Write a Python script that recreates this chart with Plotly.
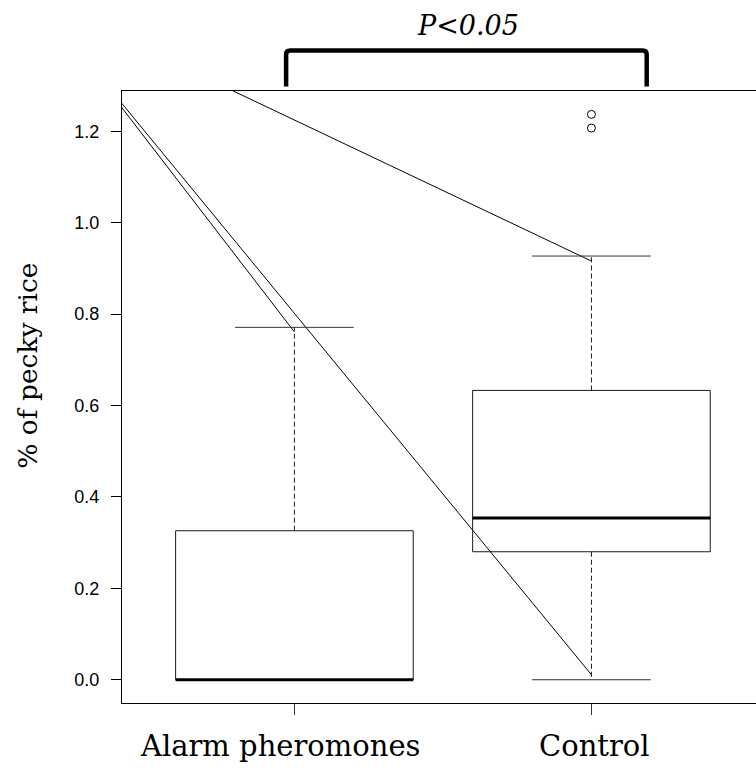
import plotly.graph_objects as go

# ---- data ---------------------------------------------------------------
groups = ["Alarm pheromones", "Control"]
positions = [1, 2]
q1 = [0.0, 0.280]
median = [0.0, 0.354]
q3 = [0.326, 0.633]
whisker_low = [0.0, 0.0]
whisker_high = [0.771, 0.927]
outlier_x = [2, 2]
outlier_y = [1.237, 1.207]

# straight guide segments running in from the upper left
seg_x0 = [0.30, 0.30, 0.60]
seg_y0 = [1.352, 1.355, 1.348]
seg_x1 = [1.0, 2.0, 2.0]
seg_y1 = [0.761, 0.011, 0.916]

y_ticks = [0.0, 0.2, 0.4, 0.6, 0.8, 1.0, 1.2]
sig_label = "P<0.05"
y_label = "% of pecky rice"

# ---- layout geometry ----------------------------------------------------
W, H = 756, 771
TOP, BOTTOM, LEFT = 91, 703.3, 122
X_RANGE = [0.4195, 2.554]
Y_RANGE = [-0.0509, 1.2881]
BOX_HALF = 0.4
CAP_HALF = 0.2


def py_to_paper(py):
    return (BOTTOM - py) / (BOTTOM - TOP)


def px_to_paper(px):
    return (px - LEFT) / (W - LEFT)


fig = go.Figure()
shapes = []

for x, a, m, b, lo, hi in zip(positions, q1, median, q3, whisker_low, whisker_high):
    # box body
    shapes.append(dict(type="rect", xref="x", yref="y",
                       x0=x - BOX_HALF, x1=x + BOX_HALF, y0=a, y1=b,
                       line=dict(color="#1a1a1a", width=1), fillcolor="rgba(0,0,0,0)"))
    # dashed whiskers
    if hi > b:
        shapes.append(dict(type="line", xref="x", yref="y", x0=x, x1=x, y0=b, y1=hi,
                           line=dict(color="#1a1a1a", width=1, dash="5px,3px")))
    if lo < a:
        shapes.append(dict(type="line", xref="x", yref="y", x0=x, x1=x, y0=a, y1=lo,
                           line=dict(color="#1a1a1a", width=1, dash="5px,3px")))
    # whisker caps
    for v in (lo, hi):
        shapes.append(dict(type="line", xref="x", yref="y",
                           x0=x - CAP_HALF, x1=x + CAP_HALF, y0=v, y1=v,
                           line=dict(color="#333333", width=1)))
    # median
    shapes.append(dict(type="line", xref="x", yref="y",
                       x0=x - BOX_HALF, x1=x + BOX_HALF, y0=m, y1=m,
                       line=dict(color="black", width=3)))

# outliers
fig.add_trace(go.Scatter(x=outlier_x, y=outlier_y, mode="markers",
                         marker=dict(symbol="circle-open", size=8, color="black",
                                     line=dict(width=1)),
                         showlegend=False, hoverinfo="skip"))

# guide segments (clipped by the plotting region)
for xa, ya, xb, yb in zip(seg_x0, seg_y0, seg_x1, seg_y1):
    fig.add_trace(go.Scatter(x=[xa, xb], y=[ya, yb], mode="lines",
                             line=dict(color="black", width=1),
                             showlegend=False, hoverinfo="skip"))

# significance bracket above the plot, with softly rounded corners
br_x0, br_x1 = 0.972, 2.186
br_top, br_bot = py_to_paper(50.5), py_to_paper(86.5)
rx = 4 / 297          # corner radius in x data units
ry = 4 / (BOTTOM - TOP)  # corner radius in paper units
bracket_path = (
    f"M {br_x0} {br_bot} L {br_x0} {br_top - ry} "
    f"Q {br_x0} {br_top} {br_x0 + rx} {br_top} "
    f"L {br_x1 - rx} {br_top} "
    f"Q {br_x1} {br_top} {br_x1} {br_top - ry} "
    f"L {br_x1} {br_bot}"
)
shapes.append(dict(type="path", xref="x", yref="paper", path=bracket_path,
                   line=dict(color="black", width=4.5)))

annotations = [
    dict(text=sig_label, xref="x", yref="paper", x=(br_x0 + br_x1) / 2 + 0.006, y=py_to_paper(25),
         showarrow=False, xanchor="center", yanchor="middle",
         font=dict(family="DejaVu Serif", size=27, color="black", style="italic")),
    dict(text=y_label, xref="paper", yref="paper", x=px_to_paper(28), y=py_to_paper(366),
         showarrow=False, textangle=-90, xanchor="center", yanchor="middle",
         font=dict(family="DejaVu Serif", size=26.5, color="black")),
    dict(text=groups[0], xref="x", yref="paper", x=positions[0], y=py_to_paper(746),
         xshift=-14, showarrow=False, xanchor="center", yanchor="middle",
         font=dict(family="DejaVu Serif", size=29, color="black")),
    dict(text=groups[1], xref="x", yref="paper", x=positions[1], y=py_to_paper(746),
         xshift=3, showarrow=False, xanchor="center", yanchor="middle",
         font=dict(family="DejaVu Serif", size=29, color="black")),
]

fig.update_layout(
    width=W, height=H, autosize=False,
    margin=dict(l=LEFT, r=0, t=TOP, b=H - BOTTOM, pad=0),
    paper_bgcolor="white", plot_bgcolor="white",
    shapes=shapes, annotations=annotations, showlegend=False,
    xaxis=dict(range=X_RANGE, showgrid=False, zeroline=False,
               showline=True, mirror=True, linecolor="black", linewidth=1,
               ticks="outside", tickvals=positions, ticklen=11, tickcolor="#333333",
               tickwidth=1, showticklabels=False),
    yaxis=dict(range=Y_RANGE, showgrid=False, zeroline=False,
               showline=True, linecolor="black", linewidth=1,
               ticks="outside", tickvals=y_ticks, ticktext=[f"{v:.1f}" for v in y_ticks],
               ticklen=10, tickcolor="black", tickwidth=1,
               ticklabelstandoff=8,
               tickfont=dict(family="Liberation Sans", size=18, color="black")),
)

fig.write_html("out.html")
